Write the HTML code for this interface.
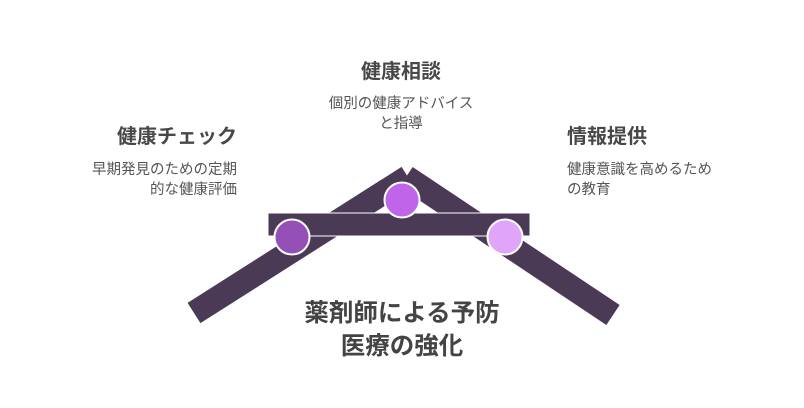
<!DOCTYPE html>
<html><head><meta charset="utf-8"><style>
body{margin:0;width:804px;height:408px;background:#fff;position:relative;overflow:hidden;font-family:"Liberation Sans","Noto Sans CJK JP",sans-serif;color:#484848}
.t{position:absolute;white-space:nowrap}
.h{font-size:20px;font-weight:bold;line-height:22px}
.d{font-size:14.5px;line-height:20px;color:#555}
</style></head><body>
<svg width="804" height="408" style="position:absolute;left:0;top:0">
<g stroke="#4b3a56" stroke-width="24" stroke-linecap="butt">
<line x1="406" y1="177" x2="613" y2="315"/>
<line x1="194" y1="313" x2="408" y2="177"/>
</g>
<rect x="268" y="213" width="262" height="23" fill="#4b3a56" stroke="#fff" stroke-width="1"/>
<circle cx="292" cy="237" r="17.5" fill="#9550b8" stroke="#fff" stroke-width="2"/>
<circle cx="402" cy="200" r="17.5" fill="#c065ea" stroke="#fff" stroke-width="2"/>
<circle cx="505" cy="237" r="17.5" fill="#e0a4f8" stroke="#fff" stroke-width="2"/>
</svg>
<div class="t h" style="right:567px;top:126px">健康チェック</div>
<div class="t d" style="right:567px;top:160px;text-align:right">早期発見のための定期<br>的な健康評価</div>
<div class="t h" style="left:0;width:802px;text-align:center;top:61px">健康相談</div>
<div class="t d" style="left:0;width:802px;text-align:center;top:94px">個別の健康アドバイス<br>と指導</div>
<div class="t h" style="left:567px;top:126px">情報提供</div>
<div class="t d" style="left:567px;top:160px">健康意識を高めるため<br>の教育</div>
<div class="t" style="left:0;width:804px;text-align:center;top:297px;font-size:24.5px;font-weight:bold;line-height:33px;color:#444">薬剤師による予防<br>医療の強化</div>
</body></html>
